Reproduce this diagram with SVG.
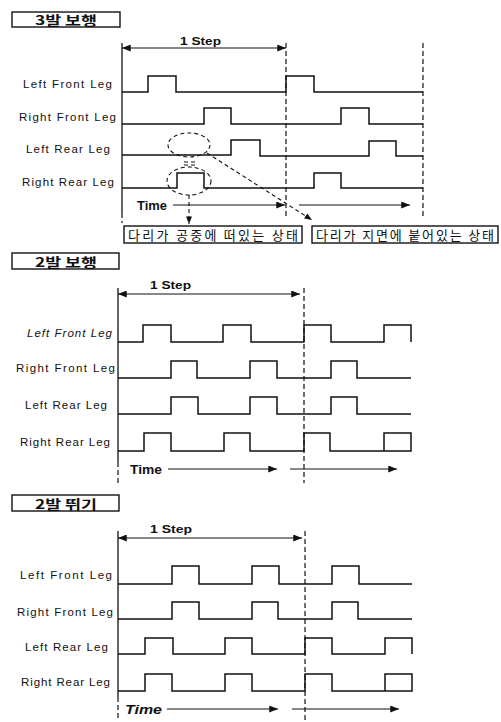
<svg xmlns="http://www.w3.org/2000/svg" width="501" height="722" viewBox="0 0 501 722">
<style>
.bg{fill:#fff}
.wave{fill:none;stroke:#111;stroke-width:1.5}
.axis{fill:none;stroke:#111;stroke-width:1.3}
.dash{fill:none;stroke:#111;stroke-width:1.2;stroke-dasharray:5 3}
.dot{fill:none;stroke:#111;stroke-width:1.1;stroke-dasharray:4 3}
.arr{fill:none;stroke:#111;stroke-width:1.2}
.lbl{font-family:"Liberation Sans",Arial,sans-serif;font-size:11.5px;fill:#111}
.step{font-family:"Liberation Sans",Arial,sans-serif;font-size:11px;font-weight:bold;fill:#111}
.time{font-family:"Liberation Sans",Arial,sans-serif;font-size:12px;font-weight:bold;fill:#111}
.ttl{font-family:"Noto Sans CJK KR",sans-serif;font-size:13px;font-weight:bold;fill:#111}
.note{font-family:"Noto Sans CJK KR",sans-serif;font-size:13px;fill:#111}
.box{fill:#fff;stroke:#111;stroke-width:1.4}
</style>
<defs>
<marker id="ah" viewBox="0 0 10 8" refX="10" refY="4" markerWidth="10" markerHeight="7" markerUnits="userSpaceOnUse" orient="auto-start-reverse">
<path d="M0,0 L10,4 L0,8 Z" fill="#111"/>
</marker>
<marker id="ahs" viewBox="0 0 10 8" refX="10" refY="4" markerWidth="8" markerHeight="6" markerUnits="userSpaceOnUse" orient="auto">
<path d="M0,0 L10,4 L0,8 Z" fill="#111"/>
</marker>
</defs>
<rect class="bg" x="0" y="0" width="501" height="722"/>

<!-- Section 1: 3발 보행 -->
<g id="title1"><rect class="box" x="12" y="12" width="108" height="15"/><text class="ttl" x="35" y="25" textLength="62" lengthAdjust="spacingAndGlyphs">3발 보행</text></g>
<g id="labels1">
<text class="lbl" x="23" y="88" textLength="89" lengthAdjust="spacing">Left Front Leg</text>
<text class="lbl" x="19" y="121" textLength="97" lengthAdjust="spacing">Right Front Leg</text>
<text class="lbl" x="26" y="153" textLength="84" lengthAdjust="spacing">Left Rear Leg</text>
<text class="lbl" x="22" y="186" textLength="92" lengthAdjust="spacing">Right Rear Leg</text>
</g>
<g id="waves1">
<path class="wave" d="M122,92 H148 V76 H176 V92 H286 V76 H314 V92 H423"/>
<path class="wave" d="M122,124 H204 V108 H231 V124 H341 V108 H369 V124 H423"/>
<path class="wave" d="M122,155 H231 V140 H260 V156 H369 V141 H396 V156 H423"/>
<path class="wave" d="M122,188 H177 V173 H204 V188 H314 V173 H341 V188 H423"/>
</g>
<g id="connectors1">
<line class="axis" x1="122" y1="43" x2="122" y2="213"/>
<line class="dash" x1="122" y1="213" x2="122" y2="223"/>
<line class="dash" x1="286" y1="43" x2="286" y2="217"/>
<line class="dash" x1="423" y1="43" x2="423" y2="218"/>
<line class="arr" x1="122" y1="48" x2="286" y2="48" marker-start="url(#ah)" marker-end="url(#ah)"/>
<line class="arr" x1="173" y1="205" x2="285" y2="205" marker-end="url(#ah)"/>
<line class="arr" x1="299" y1="205" x2="410" y2="205" marker-end="url(#ah)"/>
<ellipse class="dot" cx="189" cy="145" rx="21" ry="12"/>
<ellipse class="dot" cx="189" cy="181" rx="22" ry="14"/>
<line class="dot" x1="184" y1="162" x2="197" y2="162"/>
<line class="dot" x1="184" y1="165" x2="197" y2="165"/>
<line class="dot" x1="207" y1="153" x2="312" y2="220" marker-end="url(#ahs)"/>
<line class="dot" x1="189" y1="195" x2="189" y2="224" marker-end="url(#ahs)"/>
</g>
<text class="step" x="180" y="45" textLength="41" lengthAdjust="spacingAndGlyphs">1 Step</text>
<text class="time" x="137" y="210" textLength="30" lengthAdjust="spacingAndGlyphs">Time</text>
<g id="note1"><rect class="box" x="124" y="226" width="178" height="17"/><text class="note" x="128" y="239.5" textLength="170" lengthAdjust="spacing">다리가 공중에 떠있는 상태</text></g>
<g id="note2"><rect class="box" x="312" y="226" width="186" height="17"/><text class="note" x="316" y="239.5" textLength="178" lengthAdjust="spacing">다리가 지면에 붙어있는 상태</text></g>

<!-- Section 2: 2발 보행 -->
<g id="title2"><rect class="box" x="12" y="253" width="107" height="16"/><text class="ttl" x="35" y="267" textLength="62" lengthAdjust="spacingAndGlyphs">2발 보행</text></g>
<g id="labels2">
<text class="lbl" x="27" y="337" textLength="85" lengthAdjust="spacing" font-style="italic">Left Front Leg</text>
<text class="lbl" x="16" y="372" textLength="99" lengthAdjust="spacing">Right Front Leg</text>
<text class="lbl" x="25" y="409" textLength="82" lengthAdjust="spacing">Left Rear Leg</text>
<text class="lbl" x="20" y="446" textLength="90" lengthAdjust="spacing">Right Rear Leg</text>
</g>
<g id="waves2">
<path class="wave" d="M118,342 H143 V325 H171 V342 H223 V325 H251 V342 H304 V325 H331 V342 H384 V325 H411 V342"/>
<path class="wave" d="M118,378 H171 V361 H197 V378 H250 V361 H277 V378 H331 V361 H357 V378 H411"/>
<path class="wave" d="M118,414 H171 V397 H198 V414 H250 V397 H277 V414 H331 V397 H357 V414 H411"/>
<path class="wave" d="M118,451 H144 V433 H171 V451 H224 V433 H250 V451 H304 V433 H330 V451 H411 V433 H384 V451"/>
</g>
<g id="connectors2">
<line class="axis" x1="118" y1="288" x2="118" y2="462"/>
<line class="dash" x1="118" y1="462" x2="118" y2="483"/>
<line class="dash" x1="304" y1="288" x2="304" y2="483"/>
<line class="arr" x1="118" y1="294" x2="300" y2="294" marker-start="url(#ah)" marker-end="url(#ah)"/>
<line class="arr" x1="168" y1="469" x2="277" y2="469" marker-end="url(#ah)"/>
<line class="arr" x1="290" y1="469" x2="397" y2="469" marker-end="url(#ah)"/>
</g>
<text class="step" x="150" y="289" textLength="41" lengthAdjust="spacingAndGlyphs">1 Step</text>
<text class="time" x="130" y="474" textLength="32" lengthAdjust="spacingAndGlyphs">Time</text>

<!-- Section 3: 2발 뛰기 -->
<g id="title3"><rect class="box" x="12" y="495" width="107" height="16"/><text class="ttl" x="35" y="509" textLength="62" lengthAdjust="spacingAndGlyphs">2발 뛰기</text></g>
<g id="labels3">
<text class="lbl" x="20" y="579" textLength="92" lengthAdjust="spacing">Left Front Leg</text>
<text class="lbl" x="17" y="616" textLength="96" lengthAdjust="spacing">Right Front Leg</text>
<text class="lbl" x="25" y="651" textLength="83" lengthAdjust="spacing">Left Rear Leg</text>
<text class="lbl" x="21" y="686" textLength="89" lengthAdjust="spacing">Right Rear Leg</text>
</g>
<g id="waves3">
<path class="wave" d="M118,584 H172 V566 H199 V584 H252 V566 H279 V584 H332 V566 H359 V584 H412"/>
<path class="wave" d="M118,619 H172 V602 H199 V619 H252 V602 H278 V619 H332 V602 H358 V619 H412"/>
<path class="wave" d="M118,654 H145 V638 H173 V654 H225 V638 H252 V654 H305 V638 H332 V654 H385 V638 H412 V654"/>
<path class="wave" d="M118,691 H145 V674 H172 V691 H225 V674 H252 V691 H305 V674 H332 V691 H412 V674 H385 V691"/>
</g>
<g id="connectors3">
<line class="axis" x1="118" y1="531" x2="118" y2="697"/>
<line class="dash" x1="118" y1="697" x2="118" y2="718"/>
<line class="dash" x1="305" y1="531" x2="305" y2="720"/>
<line class="arr" x1="118" y1="538" x2="302" y2="538" marker-start="url(#ah)" marker-end="url(#ah)"/>
<line class="arr" x1="167" y1="709" x2="278" y2="709" marker-end="url(#ah)"/>
<line class="arr" x1="292" y1="709" x2="399" y2="709" marker-end="url(#ah)"/>
</g>
<text class="step" x="150" y="533" textLength="42" lengthAdjust="spacingAndGlyphs">1 Step</text>
<text class="time" x="125" y="714" textLength="37" lengthAdjust="spacingAndGlyphs" font-style="italic">Time</text>
</svg>
